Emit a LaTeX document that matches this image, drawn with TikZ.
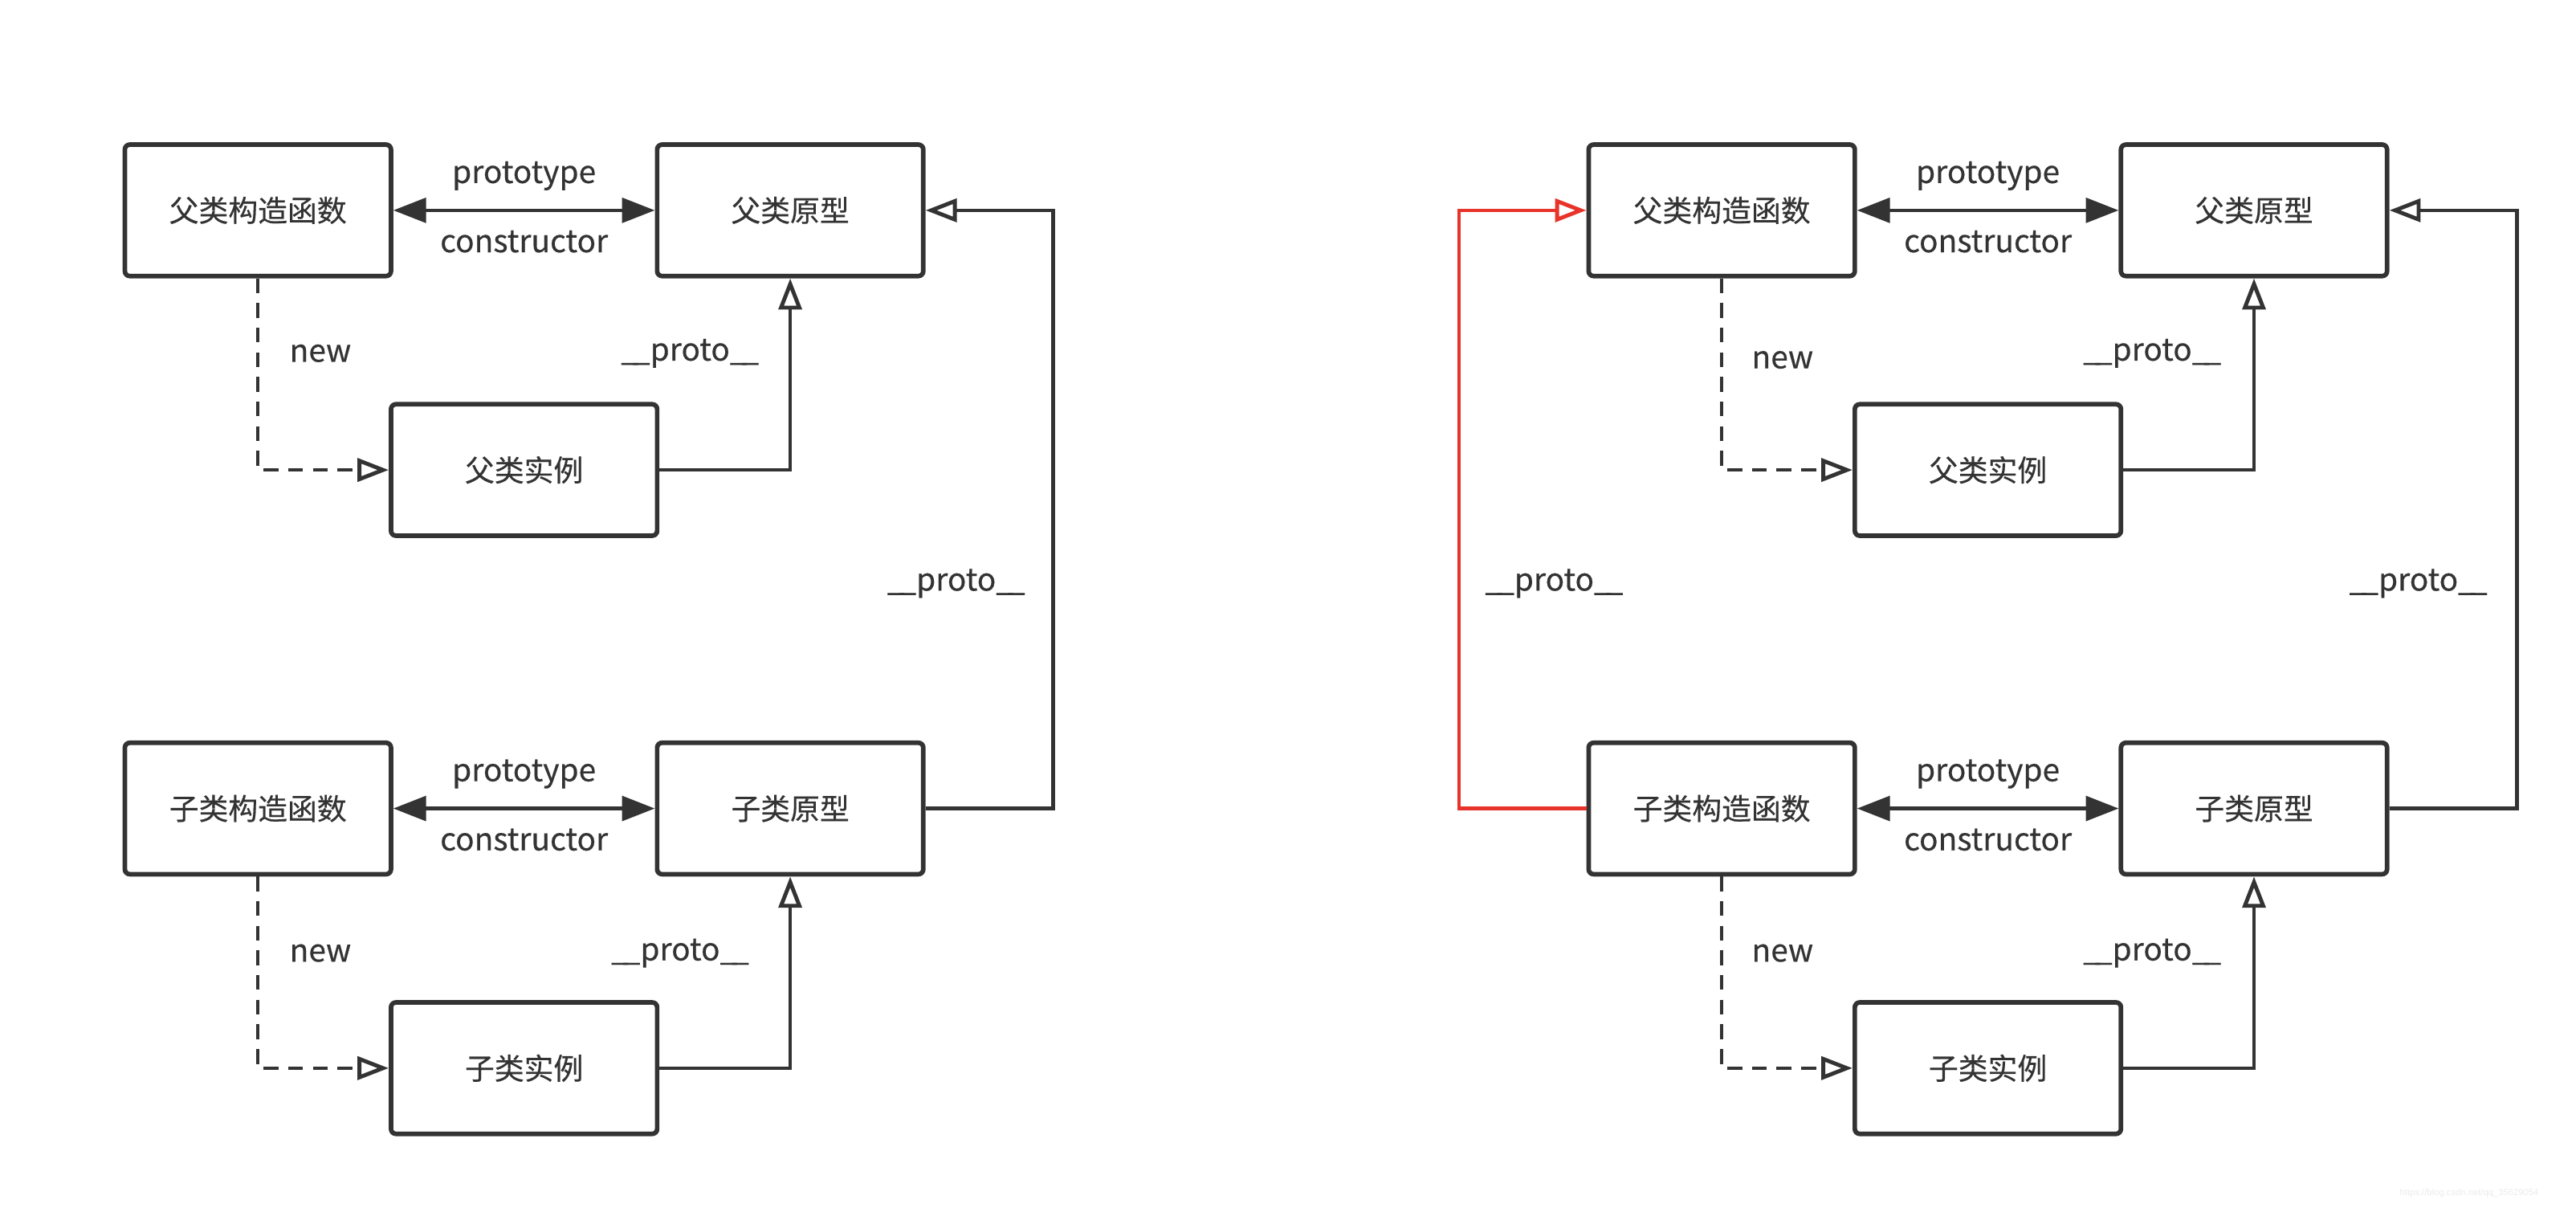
\documentclass[tikz,border=0pt]{standalone}
\usepackage{fontspec}
\setmainfont{Noto Sans CJK SC}[FakeBold=0.4]
\newfontfamily\wmfont{Liberation Sans}
\usetikzlibrary{arrows.meta}
\definecolor{ink}{HTML}{333333}
\definecolor{redline}{HTML}{E8332A}
\newcommand\protolbl{\_\kern-3.5pt\_proto\_\kern-3.5pt\_}
\begin{document}
\begin{tikzpicture}[x=1pt,y=-1pt,
 box/.style={draw=ink, line width=2.8pt, rounded corners=3pt, minimum width=162pt, minimum height=80pt, font=\fontsize{18}{21}\selectfont, text=ink, inner sep=0pt},
 lbl/.style={font=\fontsize{19}{22}\selectfont, text=ink, inner sep=0pt},
 link/.style={draw=ink, line width=2.2pt},
 both/.style={link, {Triangle[length=20pt,width=15pt]}-{Triangle[length=20pt,width=15pt]}},
 inh/.style={link, -{Triangle[open, length=19pt, width=14pt, line width=2.4pt]}},
 newl/.style={inh, dash pattern=on 9pt off 6pt},
 redl/.style={inh, draw=redline},
]
\useasboundingbox (0,0) rectangle (1568,735);
% left diagram
\node[box] (A1) at (157,128) {父类构造函数};
\node[box] (A2) at (481,128) {父类原型};
\node[box] (A3) at (319,286) {父类实例};
\node[box] (B1) at (157,492) {子类构造函数};
\node[box] (B2) at (481,492) {子类原型};
\node[box] (B3) at (319,650) {子类实例};
\coordinate (rL) at (641,0);
\draw[both] (A1) -- (A2);
\draw[newl] (A1.south) |- (A3.west);
\draw[inh] (A3.east) -| (A2.south);
\draw[both] (B1) -- (B2);
\draw[newl] (B1.south) |- (B3.west);
\draw[inh] (B3.east) -| (B2.south);
\draw[inh] (B2.east) -- (B2.east -| rL) |- (A2.east);
\node[lbl] (ta1) at (319,107) {prototype};
\node[lbl] (ta2) at (319,147) {constructor};
\node[lbl] (ta3) at (195,215) {new};
\node[lbl] (ta4) at (420,215) {\protolbl};
\node[lbl] (tb1) at (319,471) {prototype};
\node[lbl] (tb2) at (319,511) {constructor};
\node[lbl] (tb3) at (195,580) {new};
\node[lbl] (tb4) at (414,580) {\protolbl};
\node[lbl] (tl5) at (582,355) {\protolbl};
% right diagram
\node[box] (C1) at (1048,128) {父类构造函数};
\node[box] (C2) at (1372,128) {父类原型};
\node[box] (C3) at (1210,286) {父类实例};
\node[box] (D1) at (1048,492) {子类构造函数};
\node[box] (D2) at (1372,492) {子类原型};
\node[box] (D3) at (1210,650) {子类实例};
\coordinate (rR) at (1532,0);
\coordinate (lR) at (888,0);
\draw[both] (C1) -- (C2);
\draw[newl] (C1.south) |- (C3.west);
\draw[inh] (C3.east) -| (C2.south);
\draw[both] (D1) -- (D2);
\draw[newl] (D1.south) |- (D3.west);
\draw[inh] (D3.east) -| (D2.south);
\draw[inh] (D2.east) -- (D2.east -| rR) |- (C2.east);
\draw[redl] (D1.west) -- (D1.west -| lR) |- (C1.west);
\node[lbl] (tc1) at (1210,107) {prototype};
\node[lbl] (tc2) at (1210,147) {constructor};
\node[lbl] (tc3) at (1085,219) {new};
\node[lbl] (tc4) at (1310,215) {\protolbl};
\node[lbl] (td1) at (1210,471) {prototype};
\node[lbl] (td2) at (1210,511) {constructor};
\node[lbl] (td3) at (1085,580) {new};
\node[lbl] (td4) at (1310,580) {\protolbl};
\node[lbl] (tr5) at (1472,355) {\protolbl};
\node[lbl] (tr6) at (946,355) {\protolbl};
\node[font=\wmfont\fontsize{5.5}{6}\selectfont, text=black!8, inner sep=0pt] (wm) at (1503,726) {https://blog.csdn.net/qq\_35629054};
\end{tikzpicture}
\end{document}
